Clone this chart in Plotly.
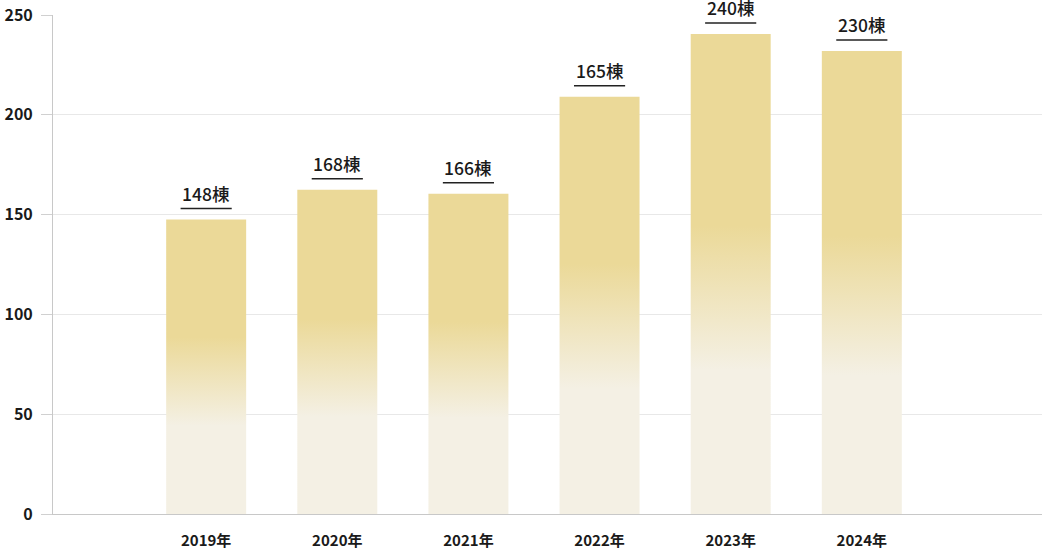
import plotly.graph_objects as go

years = ['2019年', '2020年', '2021年', '2022年', '2023年', '2024年']
heights = [147.5, 162.5, 160.5, 209, 240.5, 232]
labels = ['148棟', '168棟', '166棟', '165棟', '240棟', '230棟']
y_ticks = [0, 50, 100, 150, 200, 250]

font = 'Noto Sans CJK JP'
cream = '#f4f0e4'
gold = '#ebd998'
half = 0.305  # half bar width in category units

fig = go.Figure()

# bars drawn as filled polygons so they can carry a vertical gradient
for i, v in enumerate(heights):
    fig.add_trace(go.Scatter(
        x=[i - half, i + half, i + half, i - half, i - half],
        y=[0, 0, v, v, 0],
        mode='lines', line=dict(width=0),
        fill='toself',
        fillgradient=dict(type='vertical',
                          colorscale=[[0, cream], [0.3, cream], [0.6, gold], [1, gold]]),
        hoverinfo='skip', showlegend=False,
    ))
    fig.add_annotation(x=i, y=v, text=labels[i], showarrow=False,
                       yanchor='middle', yshift=26.5,
                       font=dict(family=font, size=17.5, color='#1a1a1a', weight=500))
    fig.add_shape(type='line', xref='x', yref='y', ysizemode='pixel', yanchor=v,
                  x0=i - 0.195, x1=i + 0.195, y0=11, y1=11,
                  line=dict(color='#222', width=1.5))

fig.update_layout(
    width=1042, height=553,
    margin=dict(l=53, r=0, t=15, b=39),
    plot_bgcolor='white', paper_bgcolor='white',
    font=dict(family=font, color='#222'),
)
fig.update_xaxes(
    range=[-1.168, 6.374], automargin=False,
    tickvals=list(range(len(years))), ticktext=years,
    showgrid=False, zeroline=False,
    showline=True, linecolor='#c8c8c8', linewidth=1,
    ticks='', ticklabelstandoff=13,
    tickfont=dict(family=font, size=15, color='#1a1a1a', weight='bold'),
)
fig.update_yaxes(
    range=[0, 250], tickvals=y_ticks, automargin=False,
    showgrid=True, gridcolor='#e8e8e8', zeroline=False,
    showline=True, linecolor='#c8c8c8', linewidth=1,
    ticks='outside', ticklen=11, tickcolor='#d0d0d0', ticklabelstandoff=5,
    tickfont=dict(family=font, size=16, color='#1a1a1a', weight='bold'),
)

# drop the default page margin so the figure sits at the window's corner
fig.write_html('out.html', config={'displayModeBar': False},
               post_script="document.body.style.margin='0';document.body.style.overflow='hidden';")
